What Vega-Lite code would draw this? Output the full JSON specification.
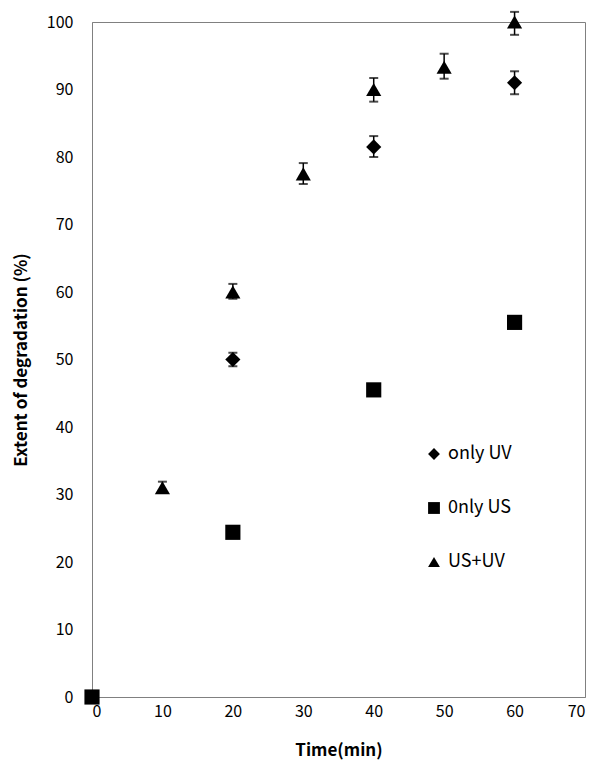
{
  "$schema": "https://vega.github.io/schema/vega-lite/v6.json",
  "autosize": {"type": "none"},
  "padding": {"left": 92, "top": 22, "right": 12, "bottom": 77},
  "width": 493,
  "height": 675,
  "background": "white",
  "config": {
    "view": {"stroke": "#808080", "strokeWidth": 1},
    "font": "Noto Sans CJK KR",
    "axis": {"labelFont": "Noto Sans CJK KR", "titleFont": "Noto Sans CJK KR", "labelColor": "#000", "titleColor": "#000"},
    "legend": {"labelFont": "Noto Sans CJK KR"}
  },
  "data": {
    "values": [
      {"series": "only UV", "t": 20, "v": 50, "lo": 49, "hi": 51},
      {"series": "only UV", "t": 40, "v": 81.5, "lo": 80, "hi": 83.1},
      {"series": "only UV", "t": 60, "v": 91, "lo": 89.3, "hi": 92.7},
      {"series": "US+UV", "t": 10, "v": 31, "lo": 30.3, "hi": 31.9},
      {"series": "US+UV", "t": 20, "v": 60, "lo": 59, "hi": 61.2},
      {"series": "US+UV", "t": 30, "v": 77.5, "lo": 76, "hi": 79.1},
      {"series": "US+UV", "t": 40, "v": 90, "lo": 88.2, "hi": 91.7},
      {"series": "US+UV", "t": 50, "v": 93.3, "lo": 91.6, "hi": 95.3},
      {"series": "US+UV", "t": 60, "v": 100, "lo": 98.1, "hi": 101.5},
      {"series": "0nly US", "t": 0, "v": 0},
      {"series": "0nly US", "t": 20, "v": 24.4},
      {"series": "0nly US", "t": 40, "v": 45.5},
      {"series": "0nly US", "t": 60, "v": 55.5}
    ]
  },
  "encoding": {
    "x": {
      "field": "t", "type": "quantitative",
      "scale": {"domain": [0, 70], "nice": false},
      "axis": {
        "values": [0, 10, 20, 30, 40, 50, 60, 70],
        "title": "Time(min)", "titleFontSize": 17, "titleFontWeight": "bold", "titlePadding": 23,
        "labelFontSize": 16, "labelPadding": 6, "ticks": false, "grid": false,
        "domainColor": "#808080", "labelFontWeight": "normal"
      }
    }
  },
  "layer": [
    {
      "mark": {"type": "rule", "color": "black", "strokeWidth": 1.5},
      "encoding": {
        "y": {"field": "lo", "type": "quantitative", "scale": {"domain": [0, 100], "nice": false},
          "axis": {
            "values": [0, 10, 20, 30, 40, 50, 60, 70, 80, 90, 100],
            "title": "Extent of degradation (%)", "titleFontSize": 17, "titleFontWeight": "bold", "titlePadding": 16,
            "labelFontSize": 16, "labelPadding": 19, "ticks": false, "grid": false,
            "domainColor": "#808080"
          }},
        "y2": {"field": "hi"}
      }
    },
    {
      "mark": {"type": "tick", "color": "black", "orient": "horizontal", "size": 9, "thickness": 2},
      "encoding": {"y": {"field": "lo", "type": "quantitative"}}
    },
    {
      "mark": {"type": "tick", "color": "black", "orient": "horizontal", "size": 9, "thickness": 2},
      "encoding": {"y": {"field": "hi", "type": "quantitative"}}
    },
    {
      "mark": {"type": "point", "filled": true, "opacity": 1, "color": "black", "size": 230},
      "encoding": {
        "y": {"field": "v", "type": "quantitative"},
        "shape": {
          "field": "series", "type": "nominal",
          "scale": {"domain": ["only UV", "0nly US", "US+UV"], "range": ["diamond", "square", "triangle-up"]},
          "legend": {
            "title": null, "orient": "none", "legendX": 333, "legendY": 423,
            "symbolSize": 140, "symbolFillColor": "black", "symbolStrokeColor": "black", "symbolStrokeWidth": 0,
            "labelFontSize": 18, "labelColor": "#000", "labelOffset": 5, "rowPadding": 36
          }
        }
      }
    }
  ]
}
